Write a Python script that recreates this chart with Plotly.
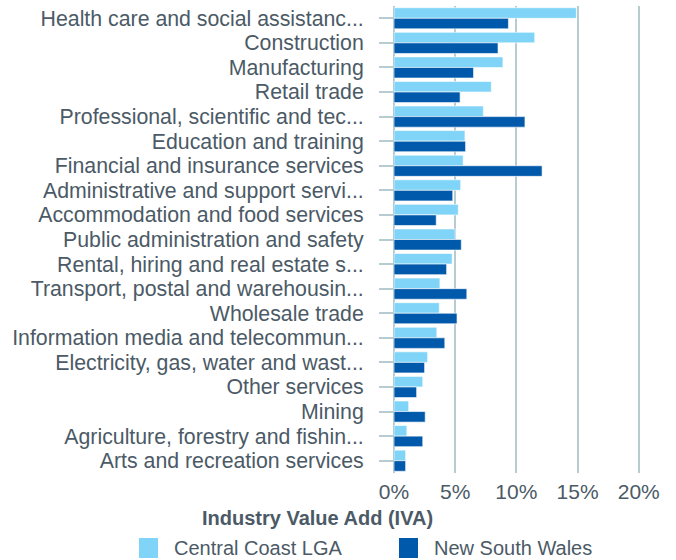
import plotly.graph_objects as go

TEXT = "#4b5a66"
GRID = "#b7ccd0"
LIGHT = "#7fd4f7"
DARK = "#0059aa"

industries = [
    "Health care and social assistanc...",
    "Construction",
    "Manufacturing",
    "Retail trade",
    "Professional, scientific and tec...",
    "Education and training",
    "Financial and insurance services",
    "Administrative and support servi...",
    "Accommodation and food services",
    "Public administration and safety",
    "Rental, hiring and real estate s...",
    "Transport, postal and warehousin...",
    "Wholesale trade",
    "Information media and telecommun...",
    "Electricity, gas, water and wast...",
    "Other services",
    "Mining",
    "Agriculture, forestry and fishin...",
    "Arts and recreation services",
]

central_coast = [14.9, 11.5, 8.9, 7.95, 7.3, 5.8, 5.65, 5.45, 5.25, 5.0,
                 4.75, 3.75, 3.7, 3.5, 2.75, 2.35, 1.2, 1.05, 0.95]
nsw = [9.35, 8.5, 6.5, 5.4, 10.7, 5.85, 12.1, 4.8, 3.45, 5.5,
       4.3, 5.95, 5.15, 4.15, 2.5, 1.85, 2.55, 2.35, 0.95]

x_ticks = [0, 5, 10, 15, 20]
x_labels = ["0%", "5%", "10%", "15%", "20%"]

series_names = ["Central Coast LGA", "New South Wales"]
series_colors = [LIGHT, DARK]

W, H = 676, 560
L, R, T, B = 394, 25, 6, 87
PW, PH = W - L - R, H - T - B


def px(x):
    return (x - L) / PW


def py(y):
    return (H - B - y) / PH


fig = go.Figure()
for name, vals, col in zip(series_names, [central_coast, nsw], series_colors):
    fig.add_trace(go.Bar(
        y=industries, x=vals, orientation="h", name=name,
        marker=dict(color=col, line=dict(color="rgba(255,255,255,0.6)", width=1)),
        showlegend=False,
    ))

# manual legend with big square swatches
legend_x = [139, 399]
for name, col, lx in zip(series_names, series_colors, legend_x):
    fig.add_shape(type="rect", xref="paper", yref="paper",
                  x0=px(lx), x1=px(lx + 19), y0=py(558), y1=py(538),
                  fillcolor=col, line_width=0)
    fig.add_annotation(text=name, xref="paper", yref="paper",
                       x=px(lx + 33), y=py(548), xanchor="left", yanchor="middle",
                       showarrow=False, font=dict(size=20, color=TEXT))

fig.add_annotation(
    text="<b>Industry Value Add (IVA)</b>",
    x=px(317), y=py(518), xref="paper", yref="paper",
    xanchor="center", yanchor="middle", showarrow=False,
    font=dict(size=20, color=TEXT),
)

fig.update_layout(
    width=W,
    height=H,
    barmode="group",
    bargap=0.14,
    bargroupgap=0.0,
    paper_bgcolor="white",
    plot_bgcolor="white",
    font=dict(family="Liberation Sans, Arial, sans-serif", size=21, color=TEXT),
    margin=dict(l=L, r=R, t=T, b=B, autoexpand=False),
    showlegend=False,
)

fig.update_xaxes(
    range=[0, 21],
    tickvals=x_ticks,
    ticktext=x_labels,
    showgrid=True,
    gridcolor=GRID,
    gridwidth=2,
    zeroline=True,
    zerolinecolor=GRID,
    zerolinewidth=2,
    showline=False,
    ticks="",
    ticklabelstandoff=4,
    automargin=False,
    tickfont=dict(size=21, color=TEXT),
)
fig.update_yaxes(
    autorange="reversed",
    tickmode="linear",
    tick0=0,
    dtick=1,
    showgrid=False,
    ticks="outside",
    ticklen=14,
    tickwidth=2,
    tickcolor=GRID,
    ticklabelstandoff=11,
    showline=False,
    automargin=False,
    tickfont=dict(size=21.3, color=TEXT),
)

fig.write_html("out.html", config={"displayModeBar": False},
               post_script="document.body.style.margin='0';")
